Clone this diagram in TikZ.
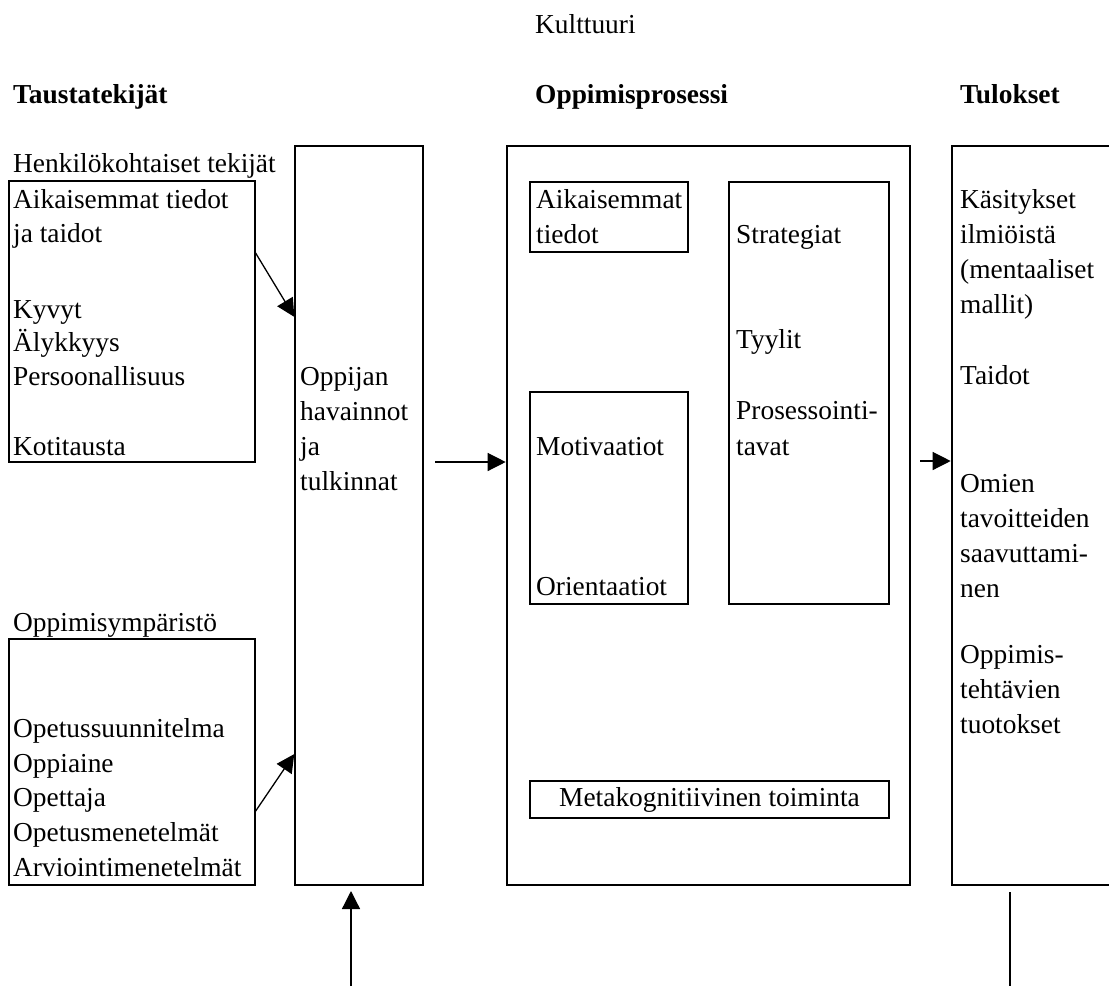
\documentclass[tikz,border=0pt]{standalone}
\usepackage{fontspec}
\setmainfont{Liberation Serif}
\usetikzlibrary{arrows.meta}

\begin{document}
\begin{tikzpicture}[x=1pt,y=-1pt,
  box/.style={draw, line width=2.7pt, rectangle, inner sep=0pt, outer sep=0pt,
    anchor=north west, font=\fontsize{27.4}{34}\selectfont},
  border/.style={line width=2.7pt},
  txt/.style={anchor=base west, inner sep=0pt, font=\fontsize{27.4}{34}\selectfont},
  head/.style={anchor=base west, inner sep=0pt, font=\fontsize{27.4}{34}\selectfont\bfseries},
  conn/.style={line width=1.3pt, -{Triangle[length=18pt,width=18pt]}, shorten >=1.3pt},
  plainline/.style={line width=1.5pt},
]
\useasboundingbox (0,0) rectangle (1109,986);

% headings
\node[txt]  (kult) at (535,33)  {Kulttuuri};
\node[head] (hd1)  at (13,103)  {Taustatekijät};
\node[head] (hd2)  at (535,103) {Oppimisprosessi};
\node[head] (hd3)  at (960,103) {Tulokset};

% frames
\node[box, minimum width=246pt, minimum height=281pt] (hk)  at (9,181)   {};
\node[box, minimum width=246pt, minimum height=246pt] (ym)  at (9,639)   {};
\node[box, minimum width=128pt, minimum height=739pt] (op)  at (295,146) {};
\node[box, minimum width=403pt, minimum height=739pt] (mid) at (507,146) {};
\node[box, minimum width=158pt, minimum height=70pt]  (akt) at (530,182) {};
\node[box, minimum width=158pt, minimum height=212pt] (mot) at (530,392) {};
\node[box, minimum width=160pt, minimum height=422pt] (str) at (729,182) {};
\node[box, minimum width=359pt, minimum height=37pt]  (meta) at (530,781) {Metakognitiivinen toiminta};
\node[box, draw=none, minimum width=162pt, minimum height=739pt] (res) at (952,146) {};
\draw[border] (res.north east) -- (res.north west) -- (res.south west) -- (res.south east);

% background factors
\node[txt] (l1)  at (13,172) {Henkilökohtaiset tekijät};
\node[txt] (l2)  at (13,208) {Aikaisemmat tiedot};
\node[txt] (l3)  at (13,242) {ja taidot};
\node[txt] (l4)  at (13,318) {Kyvyt};
\node[txt] (l5)  at (13,351) {Älykkyys};
\node[txt] (l6)  at (13,385) {Persoonallisuus};
\node[txt] (l7)  at (13,455) {Kotitausta};
\node[txt] (l8)  at (13,631) {Oppimisympäristö};
\node[txt] (l9)  at (13,737) {Opetussuunnitelma};
\node[txt] (l10) at (13,772) {Oppiaine};
\node[txt] (l11) at (13,806) {Opettaja};
\node[txt] (l12) at (13,841) {Opetusmenetelmät};
\node[txt] (l13) at (13,876) {Arviointimenetelmät};

% learner's perceptions
\node[txt] (o1) at (300,385) {Oppijan};
\node[txt] (o2) at (300,420) {havainnot};
\node[txt] (o3) at (300,455) {ja};
\node[txt] (o4) at (300,490) {tulkinnat};

% learning process
\node[txt] (m1) at (536,208) {Aikaisemmat};
\node[txt] (m2) at (536,243) {tiedot};
\node[txt] (m3) at (536,455) {Motivaatiot};
\node[txt] (m4) at (536,595) {Orientaatiot};
\node[txt] (m5) at (736,243) {Strategiat};
\node[txt] (m6) at (736,348) {Tyylit};
\node[txt] (m7) at (736,419) {Prosessointi-};
\node[txt] (m8) at (736,455) {tavat};

% outcomes
\node[txt] (r1)  at (960,208) {Käsitykset};
\node[txt] (r2)  at (960,243) {ilmiöistä};
\node[txt] (r3)  at (960,278) {(mentaaliset};
\node[txt] (r4)  at (960,313) {mallit)};
\node[txt] (r5)  at (960,384) {Taidot};
\node[txt] (r6)  at (960,492) {Omien};
\node[txt] (r7)  at (960,527) {tavoitteiden};
\node[txt] (r8)  at (960,562) {saavuttami-};
\node[txt] (r9)  at (960,597) {nen};
\node[txt] (r10) at (960,663) {Oppimis-};
\node[txt] (r11) at (960,698) {tehtävien};
\node[txt] (r12) at (960,733) {tuotokset};

% connectors
\coordinate (inB)  at (351,986);
\coordinate (outB) at (1010,986);
\draw[conn] ([yshift=-71pt]hk.north east) -- ([yshift=-172pt]op.north west);
\draw[conn] ([yshift=-173pt]ym.north east) -- ([yshift=-607pt]op.north west);
\draw[conn, shorten <=12pt] ([yshift=-316pt]op.north east) -- ([yshift=-316pt]mid.north west);
\draw[conn, shorten <=10pt] ([yshift=-315pt]mid.north east) -- ([yshift=-315pt]res.north west);
\draw[conn, shorten >=6pt] (inB) -- (inB |- op.south);
\draw[plainline, shorten <=7pt] (outB |- res.south) -- (outB);
\end{tikzpicture}
\end{document}
